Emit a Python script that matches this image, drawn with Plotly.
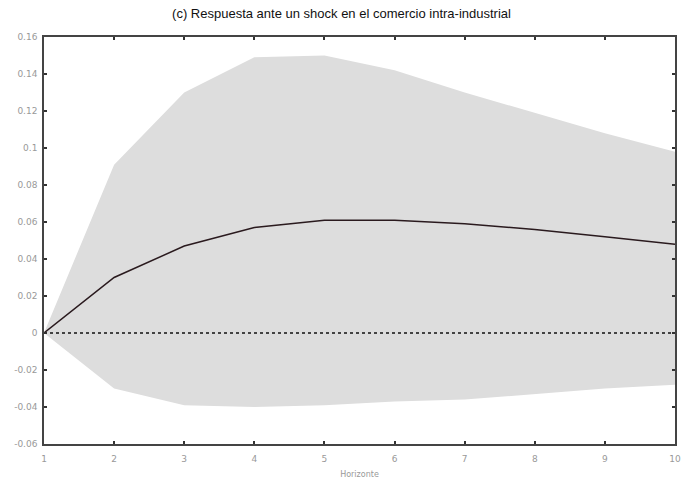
import plotly.graph_objects as go

# Impulse response horizon and estimates
horizon = [1, 2, 3, 4, 5, 6, 7, 8, 9, 10]
response = [0.0, 0.030, 0.047, 0.057, 0.061, 0.061, 0.059, 0.056, 0.052, 0.048]
upper = [0.0, 0.091, 0.130, 0.149, 0.150, 0.142, 0.130, 0.119, 0.108, 0.098]
lower = [0.0, -0.030, -0.039, -0.040, -0.039, -0.037, -0.036, -0.033, -0.030, -0.028]
y_ticks = [-0.06, -0.04, -0.02, 0, 0.02, 0.04, 0.06, 0.08, 0.1, 0.12, 0.14, 0.16]
y_tick_text = ["-0.06", "-0.04", "-0.02", "0", "0.02", "0.04", "0.06", "0.08", "0.1", "0.12", "0.14", "0.16"]

fig = go.Figure()

# confidence band
fig.add_trace(go.Scatter(x=horizon, y=upper, mode="lines", line=dict(width=0, color="#dddddd"),
                         hoverinfo="skip", showlegend=False))
fig.add_trace(go.Scatter(x=horizon, y=lower, mode="lines", line=dict(width=0, color="#dddddd"),
                         fill="tonexty", fillcolor="#dddddd", hoverinfo="skip", showlegend=False))

# zero reference
fig.add_trace(go.Scatter(x=[horizon[0], horizon[-1]], y=[0, 0], mode="lines",
                         line=dict(color="#111111", width=1.5, dash="dot"), showlegend=False))

# point estimate
fig.add_trace(go.Scatter(x=horizon, y=response, mode="lines",
                         line=dict(color="#2a1a1e", width=1.5), showlegend=False))

axis_common = dict(
    showgrid=False, zeroline=False, showline=True, linecolor="#444444", linewidth=1.5,
    mirror="ticks", ticks="inside", ticklen=3, tickcolor="#333333", tickwidth=1.5,
    tickfont=dict(family="DejaVu Sans", size=9, color="#999999"),
    automargin=False,
)

fig.update_layout(
    width=683, height=486,
    margin=dict(l=44, r=8, t=37, b=42),
    plot_bgcolor="white", paper_bgcolor="white",
    title=dict(text="(c) Respuesta ante un shock en el comercio intra-industrial",
               x=0.5, xanchor="center", y=1 - 13 / 486, yanchor="middle",
               font=dict(family="Liberation Sans Narrow, Liberation Sans", size=13, color="#111111")),
    xaxis=dict(range=[1, 10], tickvals=horizon, ticktext=[str(h) for h in horizon],
               ticklabelstandoff=5,
               title=dict(text="Horizonte", standoff=9,
                          font=dict(family="DejaVu Sans", size=8, color="#999999")),
               **axis_common),
    yaxis=dict(range=[-0.06, 0.16], tickvals=y_ticks, ticktext=y_tick_text,
               ticklabelstandoff=3, **axis_common),
)

fig.write_html("out.html")
